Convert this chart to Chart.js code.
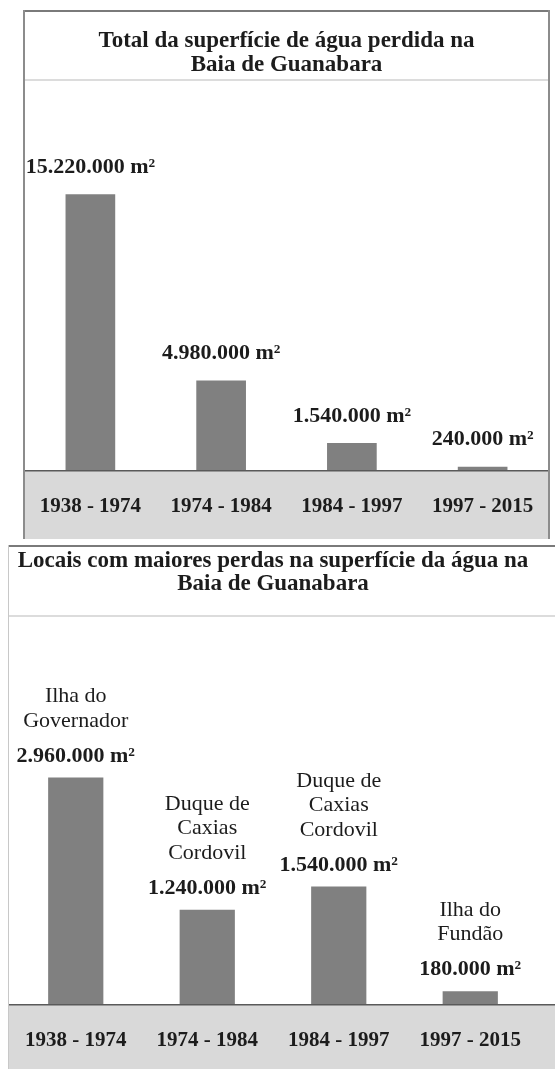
<!DOCTYPE html>
<html>
<head>
<meta charset="utf-8">
<script src="https://cdn.jsdelivr.net/npm/chart.js@4.4.0/dist/chart.umd.min.js"></script>
<style>
  body { margin: 0; background: #fff; }
  .box { position: absolute; }
  #box1 { left: 23px; top: 10px; width: 527px; height: 529px; }
  #box2 { left: 8px; top: 545px; width: 547px; height: 524px; }
</style>
</head>
<body>
<div class="box" id="box1"><canvas id="chart1"></canvas></div>
<div class="box" id="box2"><canvas id="chart2"></canvas></div>
<script>
const periods = ["1938 - 1974", "1974 - 1984", "1984 - 1997", "1997 - 2015"];
const totalLost = [15220000, 4980000, 1540000, 240000];
const siteLost = [2960000, 1240000, 1540000, 180000];
const siteNames = [
  ["Ilha do", "Governador"],
  ["Duque de", "Caxias", "Cordovil"],
  ["Duque de", "Caxias", "Cordovil"],
  ["Ilha do", "Fundão"]
];
const title1 = ["Total da superfície de água perdida na", "Baia de Guanabara"];
const title2 = ["Locais com maiores perdas na superfície da água na", "Baia de Guanabara"];

const serif = "'Liberation Serif', 'Times New Roman', serif";
const ink = "#1c1c1c";

function fmt(v) {
  return String(v).replace(/\B(?=(\d{3})+(?!\d))/g, ".") + " m²";
}

// fundo, faixa cinza, bordas e linha base
function framePlugin(o) {
  return {
    id: "frame",
    beforeDraw(chart) {
      const ctx = chart.ctx, a = chart.chartArea;
      ctx.save();
      ctx.fillStyle = "#fff";
      ctx.fillRect(0, 0, chart.width, chart.height);
      ctx.fillStyle = "#d9d9d9";
      ctx.fillRect(o.inL, a.bottom, chart.width - o.inL - o.inR, chart.height - a.bottom);
      ctx.fillStyle = "#dcdcdc";
      ctx.fillRect(o.inL, a.top - 1, chart.width - o.inL - o.inR, 2);
      ctx.restore();
    },
    afterDraw(chart) {
      const ctx = chart.ctx, a = chart.chartArea;
      ctx.save();
      ctx.fillStyle = "#5a5a5a";
      ctx.fillRect(o.inL, a.bottom - 1, chart.width - o.inL - o.inR, 1.5);
      ctx.fillStyle = "#7a7a7a";
      ctx.fillRect(0, 0, chart.width, 2);
      ctx.fillStyle = o.sideColor;
      ctx.fillRect(0, 0, o.inL, chart.height);
      if (o.inR) ctx.fillRect(chart.width - o.inR, 0, o.inR, chart.height);
      ctx.restore();
    }
  };
}

function labelPlugin(gap, names) {
  return {
    id: "valueLabels",
    afterDatasetsDraw(chart) {
      const ctx = chart.ctx;
      const meta = chart.getDatasetMeta(0);
      const vals = chart.data.datasets[0].data;
      ctx.save();
      ctx.fillStyle = ink;
      ctx.textAlign = "center";
      ctx.textBaseline = "middle";
      meta.data.forEach((bar, i) => {
        const yv = bar.y - gap;
        ctx.font = "bold 22px " + serif;
        ctx.fillText(fmt(vals[i]), bar.x, yv);
        if (names) {
          ctx.font = "22px " + serif;
          const lines = names[i];
          lines.forEach((t, k) => {
            ctx.fillText(t, bar.x, yv - 35 - (lines.length - 1 - k) * 24.5);
          });
        }
      });
      ctx.restore();
    }
  };
}

function makeChart(id, values, title, opt) {
  return new Chart(document.getElementById(id), {
    type: "bar",
    data: {
      labels: periods,
      datasets: [{
        data: values,
        backgroundColor: "#808080",
        borderWidth: 0,
        barPercentage: opt.barPct,
        categoryPercentage: 1
      }]
    },
    options: {
      responsive: true,
      maintainAspectRatio: false,
      animation: false,
      devicePixelRatio: 1,
      layout: { padding: { left: opt.padL, right: opt.padR, top: 0, bottom: 0 } },
      plugins: {
        legend: { display: false },
        tooltip: { enabled: false },
        title: {
          display: true,
          text: title,
          color: ink,
          font: { family: serif, size: 23, weight: "bold", lineHeight: opt.titleLH },
          padding: opt.titlePad
        }
      },
      scales: {
        x: {
          grid: { display: false, drawTicks: false },
          border: { display: false },
          ticks: {
            color: ink,
            font: { family: serif, size: 21, weight: "bold" },
            padding: 23,
            maxRotation: 0,
            autoSkip: false
          },
          afterFit(scale) {
            scale.height = opt.axisH;
            scale.paddingLeft = 0;
            scale.paddingRight = 0;
          }
        },
        y: { display: false, min: 0, max: opt.yMax }
      }
    },
    plugins: [framePlugin(opt.frame), labelPlugin(opt.gap, opt.names)]
  });
}

makeChart("chart1", totalLost, title1, {
  barPct: 0.38, padL: 2, padR: 2,
  titleLH: "24px", titlePad: { top: 19, bottom: 3 },
  axisH: 68, yMax: 21500000, gap: 27, names: null,
  frame: { inL: 2, inR: 2, sideColor: "#8c8c8c" }
});

makeChart("chart2", siteLost, title2, {
  barPct: 0.42, padL: 2, padR: 19,
  titleLH: "23px", titlePad: { top: 5, bottom: 20 },
  axisH: 64, yMax: 5060000, gap: 21.5, names: siteNames,
  frame: { inL: 1, inR: 0, sideColor: "#c8c8c8" }
});
</script>
</body>
</html>
